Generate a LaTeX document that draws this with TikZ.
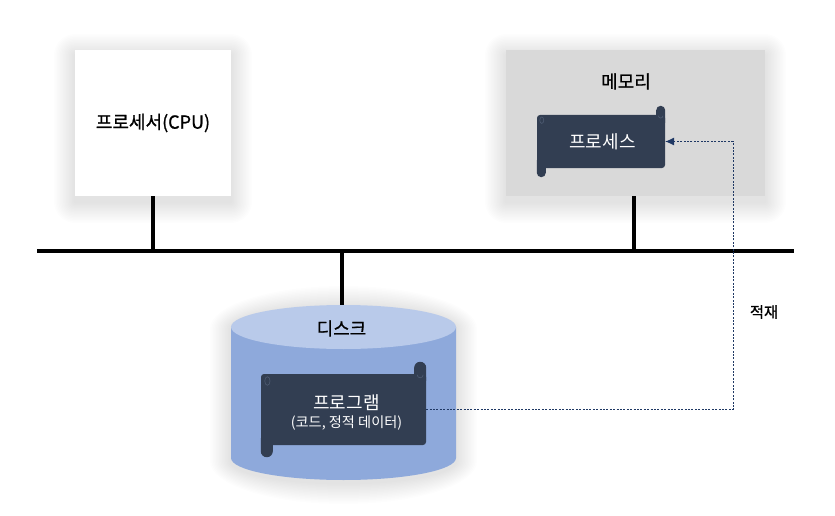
\documentclass[tikz,border=0pt]{standalone}
\usepackage{fontspec}
\setmainfont{Noto Sans CJK KR}
\newfontfamily\kobold[FakeBold=0.9]{Noto Sans CJK KR}
\usetikzlibrary{positioning,arrows.meta,calc}
\definecolor{scrolldark}{HTML}{323E52}
\definecolor{scrollhole}{HTML}{4E5B72}
\definecolor{memgray}{HTML}{D9D9D9}
\definecolor{diskbody}{HTML}{8EA9DB}
\definecolor{disktop}{HTML}{B9CAEA}
\definecolor{loadblue}{HTML}{1F3864}
\tikzset{
  softlayer/.style={fill=black, opacity=0.006},
  unitbox/.style={minimum height=146pt},
  scrollbox/.style={fill=scrolldark, rounded corners=3pt, inner sep=0pt},
  scrolltext/.style={text=white, align=center, inner sep=0pt},
  busline/.style={line width=3.5pt, black},
  loadline/.style={dash pattern=on 2pt off 1.4pt, line width=0.8pt, loadblue, -{Latex[length=9pt,width=8pt]}}
}
% soft shadow under a box: left, top, right, bottom
\newcommand{\softbox}[4]{
  \foreach \g in {1,...,14}
    \fill[softlayer, rounded corners=\g*1.5pt] (#1-\g*1.5,#2+5-\g*1.5) rectangle (#3+\g*1.5,#4+6+\g*1.5);
}
% rolled ends of a scroll: node name, curl width, curl overhang
\newcommand{\scrollcurls}[3]{
  \fill[scrolldark, rounded corners=#2*0.49] ($(#1.north east)+(-#2,-12pt)$) rectangle ($(#1.north east)+(0pt,#3)$);
  \fill[scrolldark, rounded corners=#2*0.49] ($(#1.south west)+(0pt,-#3)$) rectangle ($(#1.south west)+(#2,12pt)$);
  \draw[scrollhole, line width=0.6pt] ($(#1.north west)+(#2*0.55,-#2*0.6)$) ellipse (#2*0.22 and #2*0.36);
  \draw[scrollhole, line width=0.6pt] ($(#1.north east)+(-#2*0.75,-1pt)$) arc (180:360:#2*0.25);
}
\begin{document}
\begin{tikzpicture}[x=1pt, y=-1pt, node distance=20pt, every node/.style={font=\fontsize{18}{20}\selectfont}]
  \useasboundingbox[fill=white] (0,0) rectangle (835,516);
  \coordinate (busleft) at (37,251);
  \coordinate (busright) at (794,251);
  \softbox{75}{50}{231}{196}
  \softbox{506}{50}{765}{196}
  \foreach \g in {1,...,14}
    \fill[softlayer] (231-\g*1.5,329) arc[start angle=180, end angle=360, x radius=112.5+\g*1.5, y radius=22+\g*1.5]
      -- (456+\g*1.5,461) arc[start angle=0, end angle=180, x radius=112.5+\g*1.5, y radius=22+\g*1.5] -- cycle;
  \node[unitbox, fill=white, minimum width=156pt] (cpu) at (153,123) {\kobold 프로세서(CPU)};
  \node[unitbox, fill=memgray, minimum width=259pt] (memory) at (635.5,123) {};
  \node[below=20pt of memory.north, xshift=-9.5pt] (memlabel) {\kobold 메모리};
  \node[scrollbox, minimum width=128pt, minimum height=53pt, below=65pt of memory.north, xshift=-34.5pt] (process) {};
  \node[scrolltext, xshift=1.5pt] (processlabel) at (process) {프로세스};
  % disk body and lid
  \node[minimum width=225pt, minimum height=175pt, inner sep=0pt] (disk) at (343.5,392.5) {};
  \fill[diskbody] (231,327) -- (231,458) arc[start angle=180, end angle=0, x radius=112.5, y radius=22] -- (456,327) -- cycle;
  \fill[disktop] (343.5,327) ellipse [x radius=112.5, y radius=22];
  \node[below=12pt of disk.north, xshift=-2pt] (disklabel) {\kobold 디스크};
  \node[scrollbox, minimum width=165pt, minimum height=71pt, below=69pt of disk.north] (program) {};
  \node[scrolltext, xshift=3pt, yshift=-2.5pt] (programlabel) at (program)
    {프로그램\\[-2pt]{\fontsize{14.2}{16}\selectfont (코드, 정적 데이터)}};
  \scrollcurls{process}{9pt}{9pt}
  \scrollcurls{program}{12pt}{12pt}
  \draw[busline] (busleft) -- (busright);
  \draw[busline] (cpu.south) -- (cpu.south |- busleft);
  \draw[busline] ([xshift=-1.5pt]memory.south) -- ([xshift=-1.5pt]memory.south |- busleft);
  \draw[busline] ([xshift=-1.5pt]disk.north) -- ([xshift=-1.5pt]disk.north |- busleft);
  \coordinate (turn) at (733,141.5);
  \draw[loadline] (program.east) -| (turn) -- (process.east);
  \node[font=\fontsize{15.3}{16}\selectfont] (loadlabel) at (764,312) {\kobold 적재};
\end{tikzpicture}
\end{document}
